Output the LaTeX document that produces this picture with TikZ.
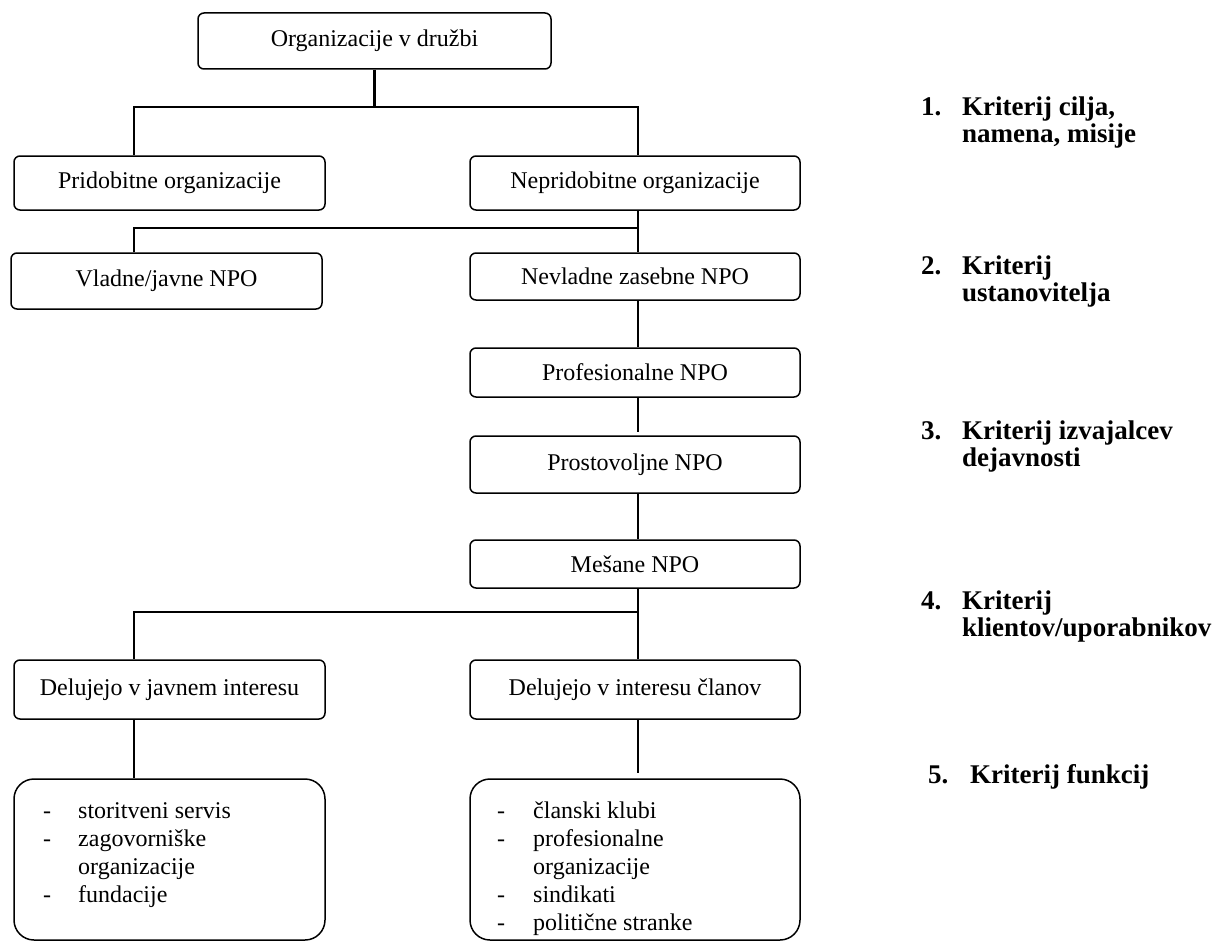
\documentclass[tikz,border=0pt]{standalone}
\usepackage{fontspec}
\setmainfont{Liberation Serif}
\begin{document}
\begin{tikzpicture}[x=1pt,y=-1pt,
  box/.style={draw, rounded corners=6pt, line width=1.5pt, inner sep=0pt, font=\fontsize{24}{28}\selectfont},
  bigbox/.style={draw, rounded corners=20pt, line width=1.5pt, inner sep=0pt},
  conn/.style={line width=2.6pt},
  txt/.style={inner sep=0pt, font=\fontsize{24}{28}\selectfont},
  crit/.style={inner sep=0pt, font=\fontsize{27}{27}\selectfont\bfseries}]
\useasboundingbox (0,0) rectangle (1223,942);
% boxes
\node[box, minimum width=353pt, minimum height=56pt] (top) at (374.5,41) {Organizacije v družbi};
\node[box, minimum width=311pt, minimum height=54pt] (prid) at (169.5,183) {Pridobitne organizacije};
\node[box, minimum width=330pt, minimum height=54pt] (nepr) at (635,183) {Nepridobitne organizacije};
\node[box, minimum width=311pt, minimum height=56pt] (vlad) at (166.5,281) {Vladne/javne NPO};
\node[box, minimum width=330pt, minimum height=47pt] (nevl) at (635,276.5) {Nevladne zasebne NPO};
\node[box, minimum width=330pt, minimum height=49pt] (prof) at (635,372.5) {Profesionalne NPO};
\node[box, minimum width=330pt, minimum height=57pt] (pros) at (635,464.5) {Prostovoljne NPO};
\node[box, minimum width=330pt, minimum height=48pt] (mesa) at (635,564) {Mešane NPO};
\node[box, minimum width=311pt, minimum height=59pt] (javn) at (169.5,689.5) {Delujejo v javnem interesu};
\node[box, minimum width=330pt, minimum height=59pt] (clan) at (635,689.5) {Delujejo v interesu članov};
\node[bigbox, minimum width=311pt, minimum height=161pt] (bl) at (169.5,859.5) {};
\node[bigbox, minimum width=330pt, minimum height=161pt] (br) at (635,859.5) {};
% lists
\node[txt, anchor=base west] (listl) at (43,818) {\begin{tabular}[t]{@{}p{35pt}@{}l@{}}
- & storitveni servis\\
- & zagovorniške\\
  & organizacije\\
- & fundacije
\end{tabular}};
\node[txt, anchor=base west] (listr) at (497,818) {\begin{tabular}[t]{@{}p{36pt}@{}l@{}}
- & članski klubi\\
- & profesionalne\\
  & organizacije\\
- & sindikati\\
- & politične stranke
\end{tabular}};
% connectors
\coordinate (a1) at (134,107);
\coordinate (a2) at (638,107);
\draw[conn] (top.south) -- (top.south |- a1);
\draw[conn] (a1 |- prid.north) -- (a1) -- (a2) -- (a2 |- nepr.north);
\coordinate (b1) at (134,228);
\coordinate (b2) at (638,228);
\draw[conn] (b2 |- nepr.south) -- (b2 |- nevl.north);
\draw[conn] (b1 |- vlad.north) -- (b1) -- (b2);
\draw[conn] (b2 |- nevl.south) -- (b2 |- prof.north);
\draw[conn, shorten >=3pt] (b2 |- prof.south) -- (b2 |- pros.north);
\draw[conn] (b2 |- pros.south) -- (b2 |- mesa.north);
\coordinate (c1) at (134,612);
\coordinate (c2) at (638,612);
\draw[conn] (c2 |- mesa.south) -- (c2);
\draw[conn] (c1 |- javn.north) -- (c1) -- (c2) -- (c2 |- clan.north);
\draw[conn] (c1 |- javn.south) -- (c1 |- bl.north);
\draw[conn, shorten >=5pt] (c2 |- clan.south) -- (c2 |- br.north);
% criteria
\node[crit, anchor=base west] (n1) at (921,115) {1.};
\node[crit, anchor=base west] (k1) at (962,115) {\begin{tabular}[t]{@{}l@{}}Kriterij cilja,\\ namena, misije\end{tabular}};
\node[crit, anchor=base west] (n2) at (921,274) {2.};
\node[crit, anchor=base west] (k2) at (962,274) {\begin{tabular}[t]{@{}l@{}}Kriterij\\ ustanovitelja\end{tabular}};
\node[crit, anchor=base west] (n3) at (921,439) {3.};
\node[crit, anchor=base west] (k3) at (962,439) {\begin{tabular}[t]{@{}l@{}}Kriterij izvajalcev\\ dejavnosti\end{tabular}};
\node[crit, anchor=base west] (n4) at (921,609) {4.};
\node[crit, anchor=base west] (k4) at (962,609) {\begin{tabular}[t]{@{}l@{}}Kriterij\\ klientov/uporabnikov\end{tabular}};
\node[crit, anchor=base west] (n5) at (928,783) {5.};
\node[crit, anchor=base west] (k5) at (970,783) {Kriterij funkcij};
\end{tikzpicture}
\end{document}
